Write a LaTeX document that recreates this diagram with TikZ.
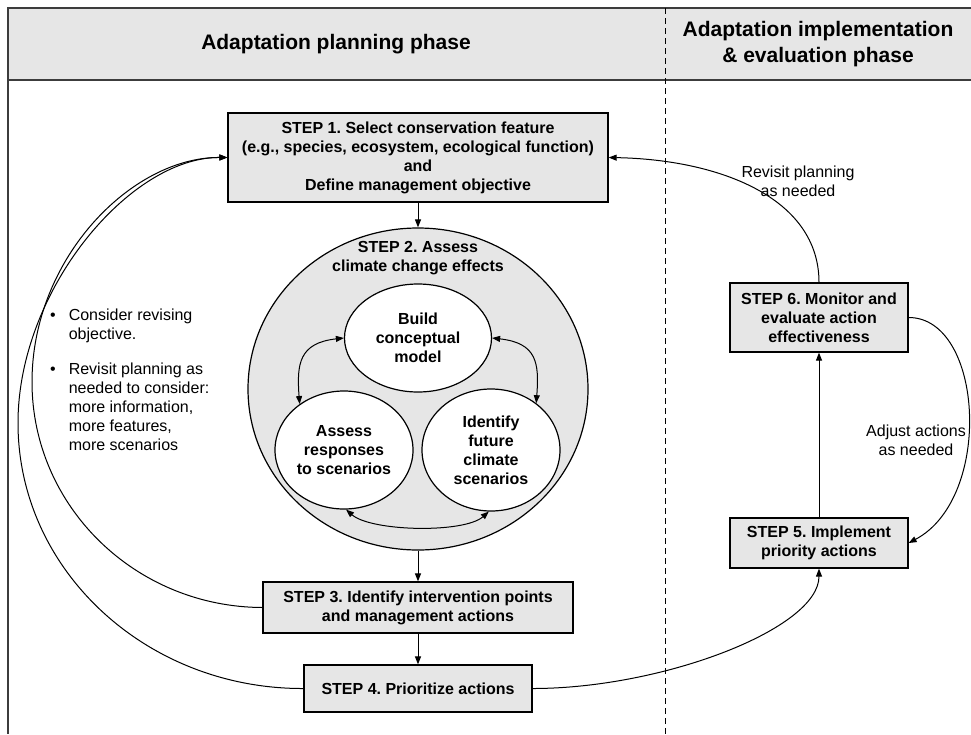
\documentclass[tikz,border=0pt]{standalone}
\usepackage{fontspec}
\setmainfont{Liberation Sans}
\frenchspacing
\usetikzlibrary{arrows.meta,shapes.geometric,positioning}
\definecolor{boxgrey}{HTML}{E6E6E6}
\definecolor{framegrey}{HTML}{3C3C3C}
\tikzset{
  % node styles (step boxes, bubbles in step 2, loose text)
  stepbox/.style={rectangle,draw=black,line width=1.2pt,fill=boxgrey,inner sep=0pt,align=center,
    font=\bfseries\fontsize{16}{19}\selectfont},
  bubble/.style={ellipse,draw=black,line width=1.2pt,fill=white,inner sep=0pt,align=center,
    font=\bfseries\fontsize{16}{19}\selectfont},
  void/.style={inner sep=0pt,align=center,font=\fontsize{16}{19}\selectfont},
  phase/.style={inner sep=0pt,align=center,font=\bfseries\fontsize{21}{26}\selectfont},
  % connector styles
  flow/.style={-{Triangle[length=8pt,width=6pt]},line width=1pt},
  twoway/.style={{Triangle[length=8pt,width=6pt]}-{Triangle[length=8pt,width=6pt]},line width=1pt},
  divider/.style={line width=0.9pt,dash pattern=on 6pt off 4pt},
}
\begin{document}
\begin{tikzpicture}[x=1pt,y=-1pt]
  \useasboundingbox (0,0) rectangle (971,734);
  \fill[boxgrey] (8,8) rectangle (971,80);
  \draw[framegrey,line width=1.5pt] (971,8) -- (8,8) -- (8,734);
  \draw[framegrey,line width=1.5pt] (8,80) -- (971,80);
  \draw[divider] (665,8) -- (665,734);
  \node[phase] (plan) at (336,44) {Adaptation planning phase};
  \node[phase] (impl) at (818,44) {Adaptation implementation\\\& evaluation phase};

  \node[stepbox,minimum width=380,minimum height=89] (s1) at (418,157.5)
    {STEP 1. Select conservation feature\\(e.g., species, ecosystem, ecological function)\\and\\Define management objective};
  \node[ellipse,draw=black,line width=1.2pt,fill=boxgrey,minimum width=340,minimum height=322] (s2) at (418,389) {};
  \node[void,font=\bfseries\fontsize{16}{19}\selectfont] (s2t) at (418,258) {STEP 2. Assess\\climate change effects};
  \node[bubble,minimum width=147,minimum height=108] (bcm) at (418,338) {Build\\conceptual\\model};
  \node[bubble,minimum width=138,minimum height=118] (arsc) at (344,450) {Assess\\responses\\to scenarios};
  \node[bubble,minimum width=138,minimum height=122] (ids) at (491,450) {Identify\\future\\climate\\scenarios};
  \node[stepbox,minimum width=310,minimum height=51] (s3) at (418,607.5)
    {STEP 3. Identify intervention points\\and management actions};
  \node[stepbox,minimum width=228,minimum height=47] (s4) at (418,688.5) {STEP 4. Prioritize actions};
  \node[stepbox,minimum width=178,minimum height=50] (s5) at (819,543) {STEP 5. Implement\\priority actions};
  \node[stepbox,minimum width=178,minimum height=69] (s6) at (819,317.5)
    {STEP 6. Monitor and\\evaluate action\\effectiveness};

  \node[void,anchor=base west] (notes) at (50,320) {\begin{tabular}[t]{@{}l@{\hspace{13pt}}l@{}}
    \textbullet & Consider revising\\ & objective.\\[16pt]
    \textbullet & Revisit planning as\\ & needed to consider:\\ & more information,\\ & more features,\\ & more scenarios
    \end{tabular}};
  \node[void] (revisit) at (798,181) {Revisit planning\\as needed};
  \node[void] (adjust) at (916,440) {Adjust actions\\as needed};

  \draw[flow] (s1.south) -- (s2.north);
  \draw[flow] (s2.south) -- (s3.north);
  \draw[flow] (s3.south) -- (s4.north);
  \draw[flow] (s5.north) -- (s6.south);
  \draw[twoway] (bcm.west) .. controls +(-45,5) and +(-3,-40) .. (arsc.134);
  \draw[twoway] (bcm.east) .. controls +(45,5) and +(3,-40) .. (ids.46);
  \draw[twoway] (arsc.-88) .. controls +(25,22) and +(-25,22) .. (ids.-92);
  \draw[flow] (s3.west) .. controls (135,607) and (32,506) .. (32,382) .. controls (32,258) and (132,157) .. (s1.west);
  \draw[flow] (s4.west) .. controls (146,689) and (18,570) .. (18,423) .. controls (18,290) and (130,157) .. (s1.west);
  \draw[flow] (s6.north) .. controls +(0,-85) and +(110,2) .. (s1.east);
  \draw[flow] (s6.east) .. controls +(75,0) and +(85,-45) .. (s5.east);
  \draw[flow] (s4.east) .. controls +(130,0) and +(0,60) .. (s5.south);
\end{tikzpicture}
\end{document}
